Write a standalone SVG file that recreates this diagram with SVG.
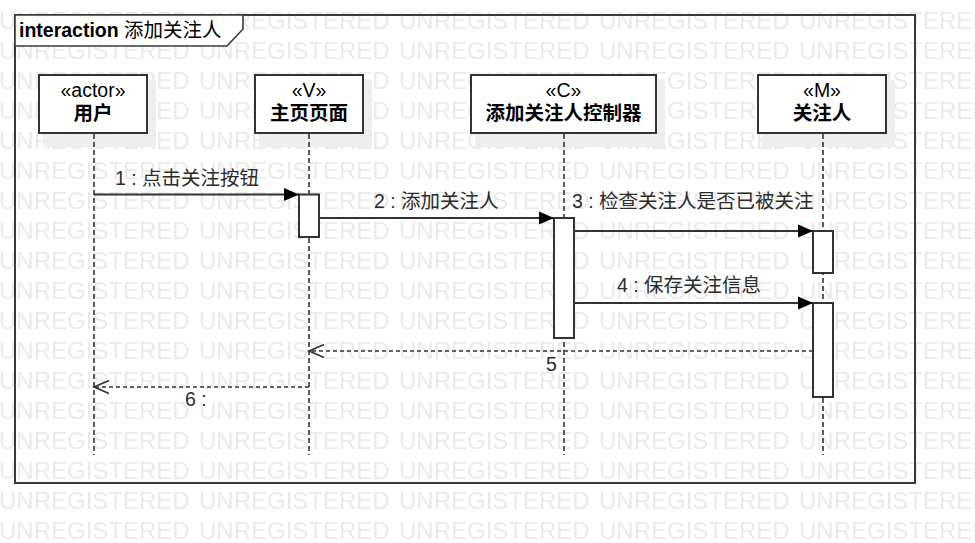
<svg xmlns="http://www.w3.org/2000/svg" width="975" height="543" viewBox="0 0 975 543">
<style>
  .wm { font-family: "Liberation Sans", Arial, sans-serif; font-size: 24px; fill: #eaeaea; }
  .frame { fill: none; stroke: #3a3a3a; stroke-width: 2; }
  .tab { fill: #ffffff; stroke: #3a3a3a; stroke-width: 1.6; }
  .box { fill: #ffffff; stroke: #333333; stroke-width: 2; }
  .shadow { fill: #eeeeee; }
  .life { stroke: #333333; stroke-width: 1.6; stroke-dasharray: 5 3; fill: none; }
  .act { fill: #ffffff; stroke: #333333; stroke-width: 2; }
  .msg { stroke: #333333; stroke-width: 2; fill: none; marker-end: url(#filled); }
  .ret { stroke: #333333; stroke-width: 1.6; stroke-dasharray: 4 3; fill: none; marker-end: url(#open); }
  .t { font-family: "Liberation Sans", "Noto Sans CJK SC", sans-serif; font-size: 19.5px; fill: #000000; }
  .name { font-weight: bold; }
  .lbl { font-family: "Liberation Sans", "Noto Sans CJK SC", sans-serif; font-size: 19.5px; fill: #2b2b2b; }
  .mid { text-anchor: middle; }
</style>
<defs>
  <pattern id="wmpat" patternUnits="userSpaceOnUse" x="-1" y="0" width="200" height="30">
    <text class="wm" x="0" y="29">UNREGISTERED</text>
  </pattern>
  <marker id="filled" markerUnits="userSpaceOnUse" markerWidth="16" markerHeight="14" refX="15" refY="6.5" orient="auto" overflow="visible">
    <path d="M0,0 L15,6.5 L0,13 Z" fill="#000000"/>
  </marker>
  <marker id="open" markerUnits="userSpaceOnUse" markerWidth="16" markerHeight="14" refX="15" refY="6.5" orient="auto" overflow="visible">
    <path d="M0,0 L15,6.5 L0,13" fill="none" stroke="#333333" stroke-width="1.6"/>
  </marker>
</defs>

<rect id="watermark" x="0" y="0" width="975" height="543" fill="url(#wmpat)"/>

<g id="frame">
  <rect class="frame" x="15" y="15" width="900" height="468"/>
  <path class="tab" d="M15,15 L243,15 L243,29 L227,46 L15,46 Z"/>
  <text class="t" x="19" y="37"><tspan class="name">interaction</tspan> 添加关注人</text>
</g>

<g id="node-user">
  <rect class="shadow" x="43" y="80" width="113" height="67"/>
  <rect class="box" x="39" y="75" width="108" height="58"/>
  <text class="t mid" x="93" y="97">«actor»</text>
  <text class="t name mid" x="93" y="120">用户</text>
</g>
<g id="node-home">
  <rect class="shadow" x="259" y="80" width="113" height="67"/>
  <rect class="box" x="255" y="75" width="108" height="58"/>
  <text class="t mid" x="309" y="97">«V»</text>
  <text class="t name mid" x="309" y="120">主页页面</text>
</g>
<g id="node-controller">
  <rect class="shadow" x="475" y="80" width="190" height="67"/>
  <rect class="box" x="471" y="75" width="185" height="58"/>
  <text class="t mid" x="563.5" y="97">«C»</text>
  <text class="t name mid" x="563.5" y="120">添加关注人控制器</text>
</g>
<g id="node-follow">
  <rect class="shadow" x="762" y="80" width="133" height="67"/>
  <rect class="box" x="758" y="75" width="128" height="58"/>
  <text class="t mid" x="822" y="97">«M»</text>
  <text class="t name mid" x="822" y="120">关注人</text>
</g>

<g id="lifelines">
  <line class="life" x1="94" y1="134" x2="94" y2="455"/>
  <line class="life" x1="309" y1="134" x2="309" y2="455"/>
  <line class="life" x1="564" y1="134" x2="564" y2="455"/>
  <line class="life" x1="823" y1="134" x2="823" y2="455"/>
</g>

<g id="activations">
  <rect class="act" x="299" y="194.5" width="20" height="42.5"/>
  <rect class="act" x="554" y="218" width="20" height="120"/>
  <rect class="act" x="813" y="231" width="20" height="42"/>
  <rect class="act" x="813" y="303" width="20" height="94"/>
</g>

<g id="connectors">
  <line class="msg" x1="94" y1="194.5" x2="299" y2="194.5"/>
  <line class="msg" x1="319" y1="218" x2="554" y2="218"/>
  <line class="msg" x1="574" y1="231" x2="813" y2="231"/>
  <line class="msg" x1="574" y1="303" x2="813" y2="303"/>
  <line class="ret" x1="813" y1="351" x2="309" y2="351"/>
  <line class="ret" x1="309" y1="387" x2="94" y2="387"/>
</g>

<g id="labels">
  <text class="lbl" x="115" y="185">1 : 点击关注按钮</text>
  <text class="lbl" x="374" y="208">2 : 添加关注人</text>
  <text class="lbl" x="572" y="208">3 : 检查关注人是否已被关注</text>
  <text class="lbl" x="617" y="292">4 : 保存关注信息</text>
  <text class="lbl" x="546" y="371">5</text>
  <text class="lbl" x="185" y="406">6 :</text>
</g>
</svg>
